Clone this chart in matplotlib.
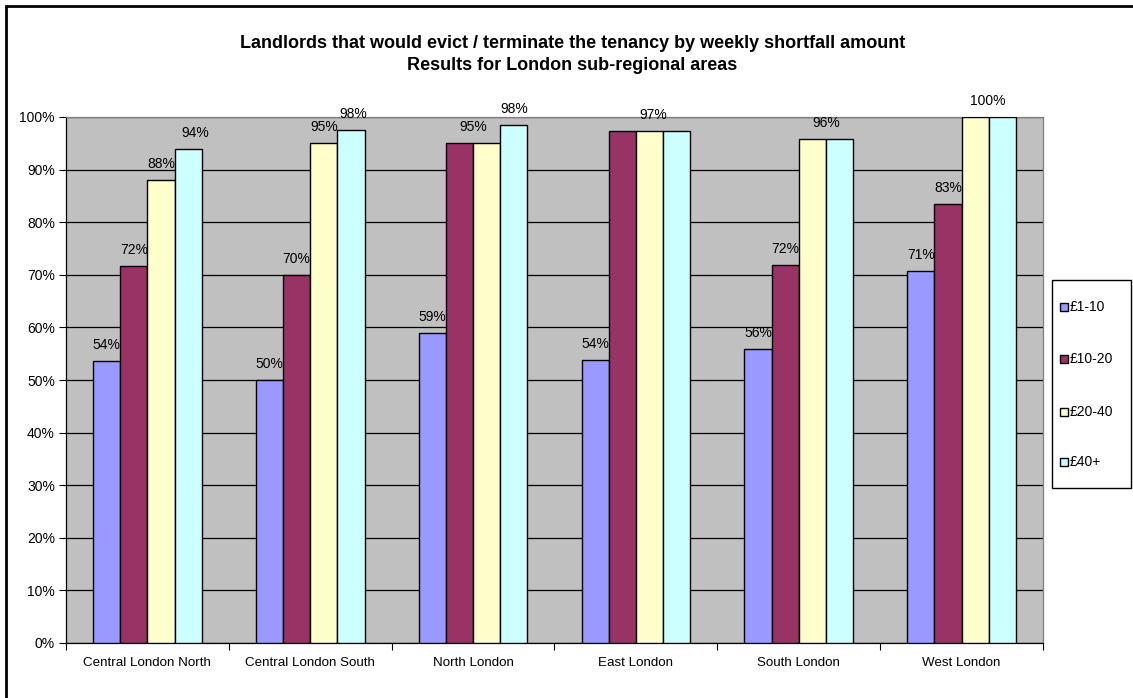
import matplotlib
matplotlib.use("Agg")
import matplotlib.pyplot as plt
import numpy as np
from matplotlib.patches import Rectangle
from matplotlib.ticker import MultipleLocator, FuncFormatter

plt.rcParams['font.family'] = ['Liberation Sans', 'DejaVu Sans']

categories = ["Central London North", "Central London South", "North London",
              "East London", "South London", "West London"]
series_names = ["£1-10", "£10-20", "£20-40", "£40+"]
s_1_10 = [53.7, 50.0, 58.9, 53.8, 55.9, 70.8]
s_10_20 = [71.6, 69.9, 95.0, 97.3, 71.9, 83.4]
s_20_40 = [88.0, 95.0, 95.0, 97.3, 95.9, 100.0]
s_40p = [94.0, 97.5, 98.4, 97.3, 95.9, 100.0]
# data labels as displayed (empty = hidden in the original)
lab_1_10 = ["54%", "50%", "59%", "54%", "56%", "71%"]
lab_10_20 = ["72%", "70%", "95%", "", "72%", "83%"]
lab_20_40 = ["88%", "95%", "", "97%", "96%", "100%"]
lab_40p = ["94%", "98%", "98%", "", "", ""]

series = [s_1_10, s_10_20, s_20_40, s_40p]
labels = [lab_1_10, lab_10_20, lab_20_40, lab_40p]
colors = ["#9999FF", "#993366", "#FFFFCC", "#CCFFFF"]
# small horizontal nudges for labels (in bar widths), mimicking Excel placement
nudge = {(3, 0): 0.25, (3, 1): 0.1, (1, 2): 0.5, (2, 3): 0.15, (2, 4): 0.5, (2, 5): 0.45}

W, H = 1133, 698
fig = plt.figure(figsize=(W / 100, H / 100), dpi=100)
fig.patch.set_facecolor("white")

left, right, top, bottom = 66, 1043, 117, 643
ax = fig.add_axes([left / W, 1 - bottom / H, (right - left) / W, (bottom - top) / H])
ax.set_facecolor("#C0C0C0")

n = len(categories)
x = np.arange(n)
bw = 1 / 6.0
fs = 10
for i, (vals, col) in enumerate(zip(series, colors)):
    pos = x + (i - 1.5) * bw
    ax.bar(pos, vals, width=bw, color=col, edgecolor="black", linewidth=1.0, zorder=3)
    for j, (p, v, t) in enumerate(zip(pos, vals, labels[i])):
        if t:
            dx = nudge.get((i, j), 0.0) * bw
            ax.annotate(t, (p + dx, v), xytext=(0, 6.5), textcoords="offset points",
                        ha="center", va="bottom", fontsize=fs, color="black", zorder=5)

ax.set_xlim(-0.5, n - 0.5)
ax.set_ylim(0, 100)
ax.yaxis.set_major_locator(MultipleLocator(10))
ax.yaxis.set_major_formatter(FuncFormatter(lambda v, p: f"{int(round(v))}%"))
ax.grid(axis="y", color="black", linewidth=0.9, zorder=1)
ax.set_axisbelow(True)

ax.set_xticks(np.arange(n + 1) - 0.5)
ax.set_xticklabels([])
ax.set_xticks(x, minor=True)
ax.set_xticklabels(categories, minor=True)
ax.tick_params(axis="x", which="major", length=5, direction="out", width=0.8, color="black")
ax.tick_params(axis="x", which="minor", length=0, pad=10, labelsize=9.6)
ax.tick_params(axis="y", length=5, direction="out", width=0.8, labelsize=fs, pad=3)

for s in ["left", "bottom"]:
    ax.spines[s].set_color("black")
    ax.spines[s].set_linewidth(0.9)
for s in ["right", "top"]:
    ax.spines[s].set_color("#808080")
    ax.spines[s].set_linewidth(0.9)

fig.text(0.505, 1 - 44 / H, "Landlords that would evict / terminate the tenancy by weekly shortfall amount",
         ha="center", va="center", fontsize=13, fontweight="bold")
fig.text(0.505, 1 - 66 / H, "Results for London sub-regional areas",
         ha="center", va="center", fontsize=13, fontweight="bold")

# legend drawn manually (Excel-style box)
def fx(px):
    return px / W

def fy(py):
    return 1 - py / H

lx0, lx1, ly0, ly1 = 1052, 1131, 280, 488
fig.patches.append(Rectangle((fx(lx0), fy(ly1)), fx(lx1) - fx(lx0), fy(ly0) - fy(ly1),
                             transform=fig.transFigure, facecolor="white",
                             edgecolor="black", linewidth=1.0))
entry_y = [307, 359, 412, 462]
for name, col, ey in zip(series_names, colors, entry_y):
    fig.patches.append(Rectangle((fx(1060), fy(ey + 4)), fx(8), 8 / H,
                                 transform=fig.transFigure, facecolor=col,
                                 edgecolor="black", linewidth=1.0))
    fig.text(fx(1069.5), fy(ey), name, ha="left", va="center", fontsize=fs)

border = Rectangle((6 / W, -0.1), 1.2, 1 - 6 / H + 0.1, transform=fig.transFigure,
                   fill=False, edgecolor="black", linewidth=2.0)
fig.patches.append(border)

fig.savefig("out.png", dpi=100)
